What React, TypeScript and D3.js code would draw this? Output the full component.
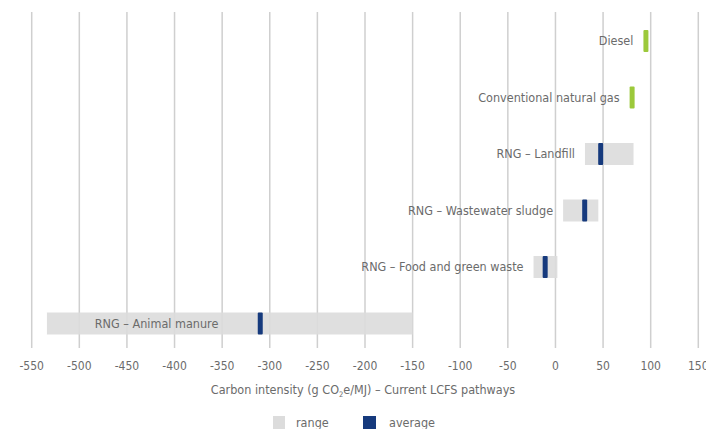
import React from "react";
import * as d3 from "d3";

const categories = [
  "Diesel",
  "Conventional natural gas",
  "RNG – Landfill",
  "RNG – Wastewater sludge",
  "RNG – Food and green waste",
  "RNG – Animal manure",
];
const rangeMin = [null, null, 31, 8, -23, -534];
const rangeMax = [null, null, 82, 45, 2, -150];
const averages = [95, 80.5, 47.5, 30.7, -10.8, -310];
const isFossil = [true, true, false, false, false, false];
const labelEnd = [null, null, null, null, null, -354];
const xTicks = [-550, -500, -450, -400, -350, -300, -250, -200, -150, -100, -50, 0, 50, 100, 150];

const W = 706;
const H = 429;
const FONT = "'DejaVu Sans Condensed', 'Liberation Sans Narrow', 'Roboto', sans-serif";

export default function App() {
  const x = d3.scaleLinear().domain([-550, 150]).range([31.7, 698.3]);
  const y = d3.scalePoint<string>().domain(categories).range([41, 323.5]);
  const barH = 22;
  const markW = 5;
  const gridTop = 12;
  const gridBottom = 348;

  return (
    <svg
      width={W}
      height={H}
      style={{ position: "absolute", left: 0, top: 0, background: "#fff" }}
      fontFamily={FONT}
    >
      {xTicks.map((t) => (
        <line
          key={"g" + t}
          x1={x(t)}
          x2={x(t)}
          y1={gridTop}
          y2={gridBottom}
          stroke="#cfcfcf"
          strokeWidth={1.5}
        />
      ))}
      {categories.map((c, i) => {
        const cy = y(c)!;
        const lo = rangeMin[i];
        const hi = rangeMax[i];
        const avg = averages[i];
        const start = lo != null ? x(lo) : x(avg) - markW / 2;
        const lx = labelEnd[i] != null ? x(labelEnd[i] as number) : start - 10;
        return (
          <g key={c}>
            {lo != null && hi != null && (
              <rect
                x={x(lo)}
                width={x(hi) - x(lo)}
                y={cy - barH / 2}
                height={barH}
                fill="#dcdcdc"
                fillOpacity={0.9}
              />
            )}
            <rect
              x={x(avg) - markW / 2}
              width={markW}
              y={cy - barH / 2}
              height={barH}
              rx={1}
              fill={isFossil[i] ? "#9cc93b" : "#163a7d"}
            />
            <text
              x={lx}
              y={cy}
              dy="0.35em"
              textAnchor="end"
              fontSize={12.5}
              fill="#6b6b6b"
            >
              {c}
            </text>
          </g>
        );
      })}
      {xTicks.map((t) => (
        <text
          key={"t" + t}
          x={x(t)}
          y={366}
          dy="0.35em"
          textAnchor="middle"
          fontSize={12}
          fill="#6b6b6b"
        >
          {t}
        </text>
      ))}
      <text x={363} y={390} dy="0.35em" textAnchor="middle" fontSize={12.5} fill="#6b6b6b">
        Carbon intensity (g CO
        <tspan fontSize={7.5} dy="3">2</tspan>
        <tspan dy="-3">e/MJ) – Current LCFS pathways</tspan>
      </text>
      <rect x={273} y={416} width={12} height={13} fill="#dcdcdc" />
      <text x={296} y={423} dy="0.35em" fontSize={12.5} fill="#6b6b6b">
        range
      </text>
      <rect x={363} y={416} width={13} height={13} fill="#163a7d" />
      <text x={389} y={423} dy="0.35em" fontSize={12.5} fill="#6b6b6b">
        average
      </text>
    </svg>
  );
}
